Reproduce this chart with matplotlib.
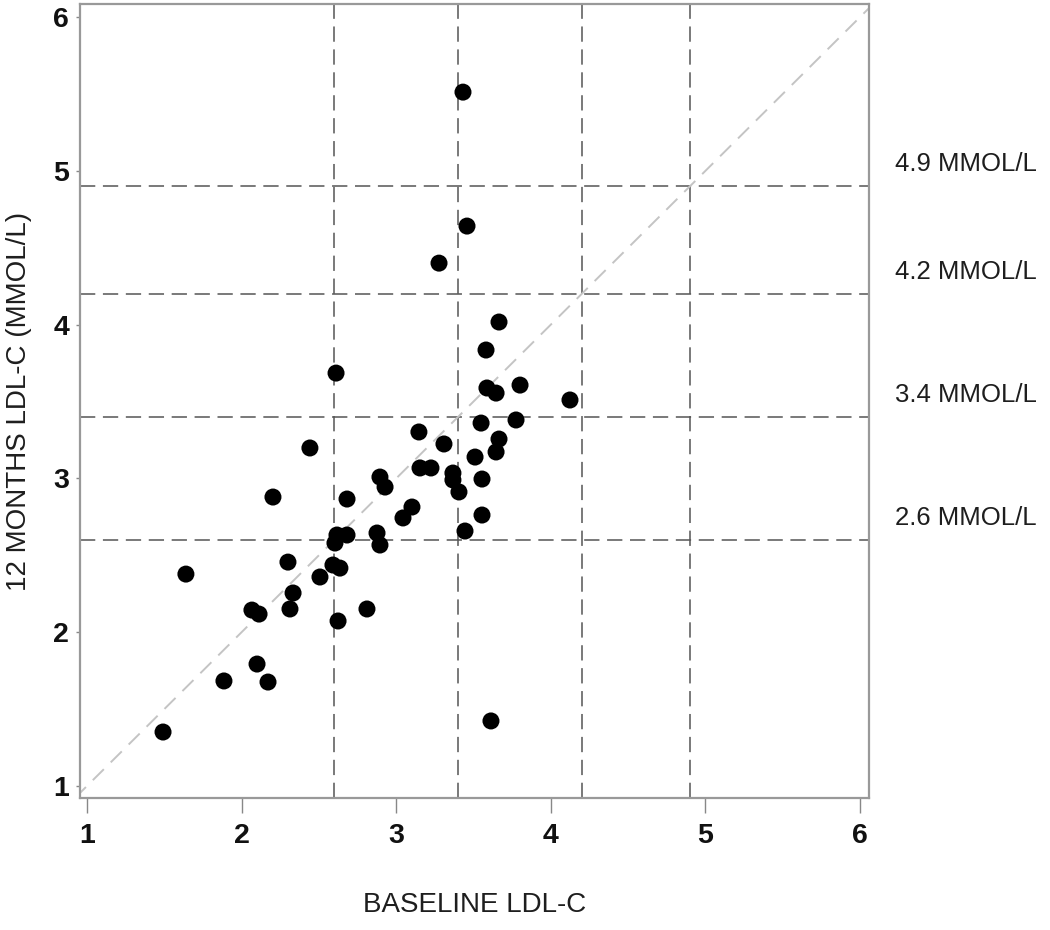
import matplotlib
matplotlib.use("Agg")
import matplotlib.pyplot as plt
import matplotlib.transforms as mtransforms

# Data
baseline_ldl = [3.432, 3.458, 3.277, 2.611, 3.665, 3.581, 3.587, 3.646, 3.801, 4.124,
                3.549, 3.775, 2.442, 3.147, 3.309, 3.665, 3.646, 3.510, 3.154, 3.225,
                3.367, 3.367, 3.406, 3.555, 3.555, 3.445, 3.102, 3.044, 2.895, 2.928,
                2.682, 2.203, 2.617, 2.682, 2.604, 2.876, 2.895, 2.591, 2.636, 2.507,
                2.300, 1.640, 2.333, 2.313, 2.811, 2.067, 2.113, 2.624, 2.100, 1.886,
                2.171, 1.492, 3.613]
month12_ldl = [5.512, 4.641, 4.400, 3.685, 4.017, 3.835, 3.588, 3.555, 3.607, 3.510,
               3.360, 3.380, 3.198, 3.302, 3.224, 3.256, 3.172, 3.139, 3.068, 3.068,
               3.035, 2.990, 2.912, 2.996, 2.762, 2.658, 2.814, 2.743, 3.009, 2.944,
               2.866, 2.879, 2.632, 2.632, 2.580, 2.645, 2.567, 2.437, 2.417, 2.359,
               2.456, 2.378, 2.255, 2.151, 2.151, 2.144, 2.118, 2.073, 1.793, 1.683,
               1.676, 1.351, 1.423]
cutoffs = [2.6, 3.4, 4.2, 4.9]
cutoff_labels = ["2.6 MMOL/L", "3.4 MMOL/L", "4.2 MMOL/L", "4.9 MMOL/L"]
ticks = [1, 2, 3, 4, 5, 6]

plt.rcParams['font.family'] = ['Liberation Sans', 'DejaVu Sans']

fig = plt.figure(figsize=(10.5, 9.3), dpi=100)
ax = fig.add_axes([80/1050, 1 - 798/930, (869-80)/1050, (798-4)/930])

xlim = (0.955, 6.058)
ylim = (0.922, 6.085)
ax.set_xlim(*xlim)
ax.set_ylim(*ylim)

dash_color = '#555555'
for c in cutoffs:
    ax.axvline(c, color=dash_color, lw=1.1, linestyle=(0, (10, 5)), zorder=1)
    ax.axhline(c, color=dash_color, lw=1.1, linestyle=(0, (10, 5)), zorder=1)

lo = min(xlim[0], ylim[0])
hi = max(xlim[1], ylim[1])
ax.plot([lo, hi], [lo, hi], color='#c4c4c4', lw=1.4, linestyle=(0, (8, 5)), zorder=1)

ax.scatter(baseline_ldl, month12_ldl, s=150, color='black', edgecolors='none', zorder=3)

trans = mtransforms.blended_transform_factory(ax.transAxes, ax.transData)
for c, lab in zip(cutoffs, cutoff_labels):
    ax.annotate(lab, xy=(1, c), xycoords=trans, xytext=(19, 16), textcoords='offset points',
                ha='left', va='center', fontsize=18.5, color='#1e1e1e', annotation_clip=False)

ax.set_xticks(ticks)
ax.set_yticks(ticks)
ax.set_xticklabels([str(t) for t in ticks], fontsize=20.5, fontweight='bold', color='#111111')
ax.set_yticklabels([str(t) for t in ticks], fontsize=20.5, fontweight='bold', color='#111111')
ax.tick_params(axis='x', length=11, width=1.0, color='#888888', pad=7)
ax.tick_params(axis='y', length=3, width=1.0, color='#888888', pad=5)

for s in ax.spines.values():
    s.set_color('#999999')
    s.set_linewidth(1.6)

ax.set_xlabel("BASELINE LDL-C", fontsize=20, color='#1e1e1e', labelpad=31)
ax.set_ylabel("12 MONTHS LDL-C (MMOL/L)", fontsize=20, color='#1e1e1e', labelpad=15)

fig.savefig("out.png", dpi=100, facecolor='white')
